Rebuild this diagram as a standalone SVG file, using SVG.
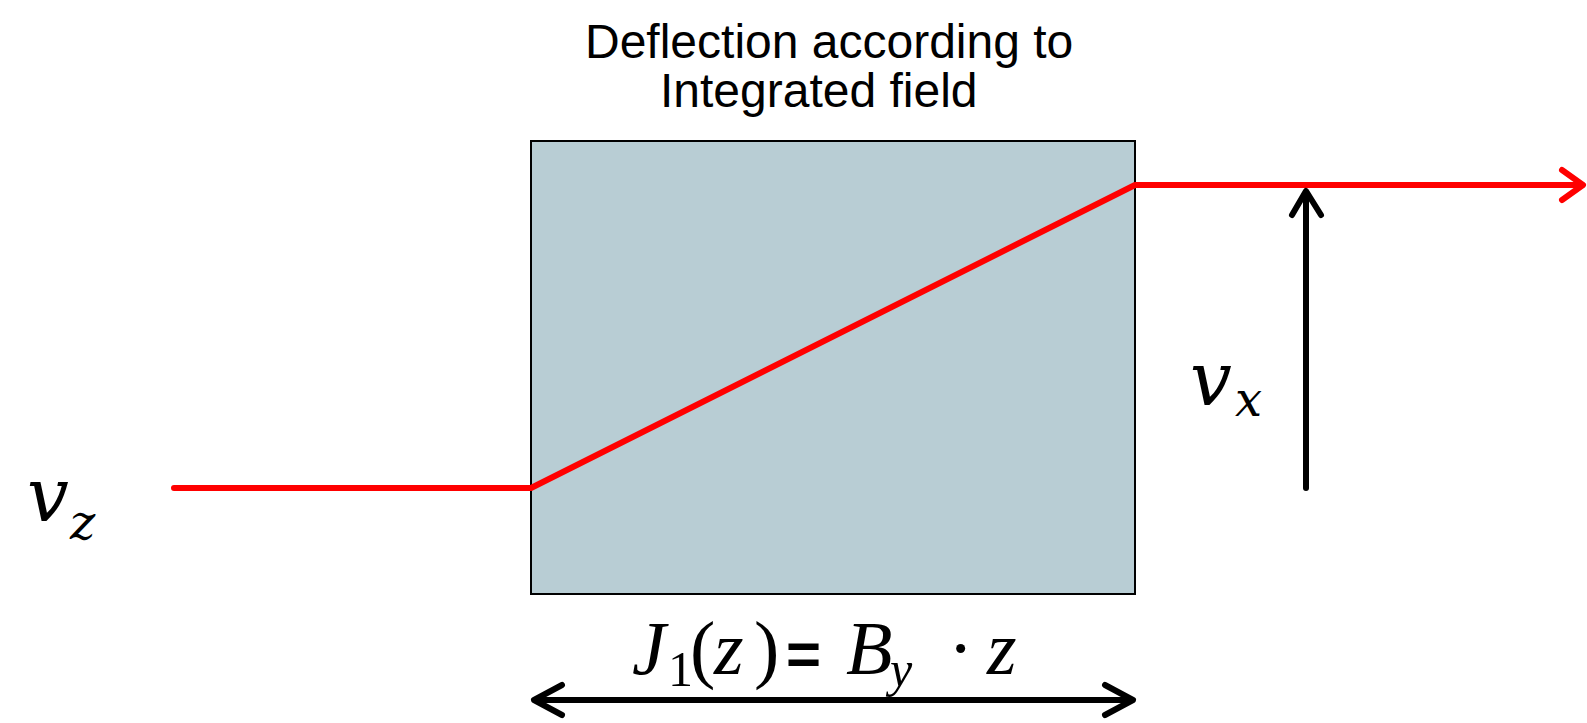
<svg xmlns="http://www.w3.org/2000/svg" width="1587" height="723" viewBox="0 0 1587 723">
<style>
.title{font-family:"Liberation Sans",Arial,sans-serif;font-size:48px;fill:#000}
.math{font-family:"DejaVu Serif","Liberation Serif",serif;font-style:italic;fill:#000}
.fm{font-family:"Liberation Serif","DejaVu Serif",serif;font-style:italic;fill:#000}
.up{font-style:normal}
.eq{font-family:"Liberation Sans",Arial,sans-serif;font-style:normal;font-weight:bold}
.red{stroke:#ff0000;stroke-width:6;fill:none;stroke-linecap:round;stroke-linejoin:round}
.blk{stroke:#000;stroke-width:6;fill:none;stroke-linecap:round;stroke-linejoin:round}
</style>
<rect width="1587" height="723" fill="#fff"/>
<g id="title">
<text class="title" x="585" y="58">Deflection according to</text>
<text class="title" x="660" y="107">Integrated field</text>
</g>
<g id="box">
<rect x="531" y="141" width="604" height="453" fill="#b8cdd4" stroke="#000" stroke-width="2"/>
</g>
<g id="connectors">
<path class="red" d="M174,488 L531,488 L1135,185 L1582,185" stroke-linecap="butt"/>
<polyline class="red" points="1562,170 1583,185 1562,200"/>
<line class="blk" x1="1306" y1="488" x2="1306" y2="193" stroke-linecap="butt"/>
<polyline class="blk" points="1292,215 1306,191 1321,215"/>
<line class="blk" x1="536" y1="700" x2="1131" y2="700" stroke-linecap="butt"/>
<polyline class="blk" points="562,685 534,700 562,715"/>
<polyline class="blk" points="1105,685 1133,700 1105,715"/>
</g>
<g id="label-vz">
<text class="math" x="27" y="521" font-size="74">v<tspan font-size="48" x="70" y="539">z</tspan></text>
</g>
<g id="label-vx">
<text class="math" x="1190" y="405" font-size="74">v<tspan font-size="48" x="1235" y="416">x</tspan></text>
</g>
<g id="formula">
<text class="fm" font-size="76" y="674"><tspan x="632">J</tspan><tspan class="up" font-size="50" x="668" y="686">1</tspan><tspan class="up" x="690" y="674">(</tspan><tspan x="714">z</tspan><tspan class="up" x="754">)</tspan><tspan class="eq" font-size="60" x="786">=</tspan><tspan x="846">B</tspan><tspan font-size="50" x="890" y="686">y</tspan><tspan class="up" x="948" y="674">·</tspan><tspan x="987">z</tspan></text>
</g>
</svg>
